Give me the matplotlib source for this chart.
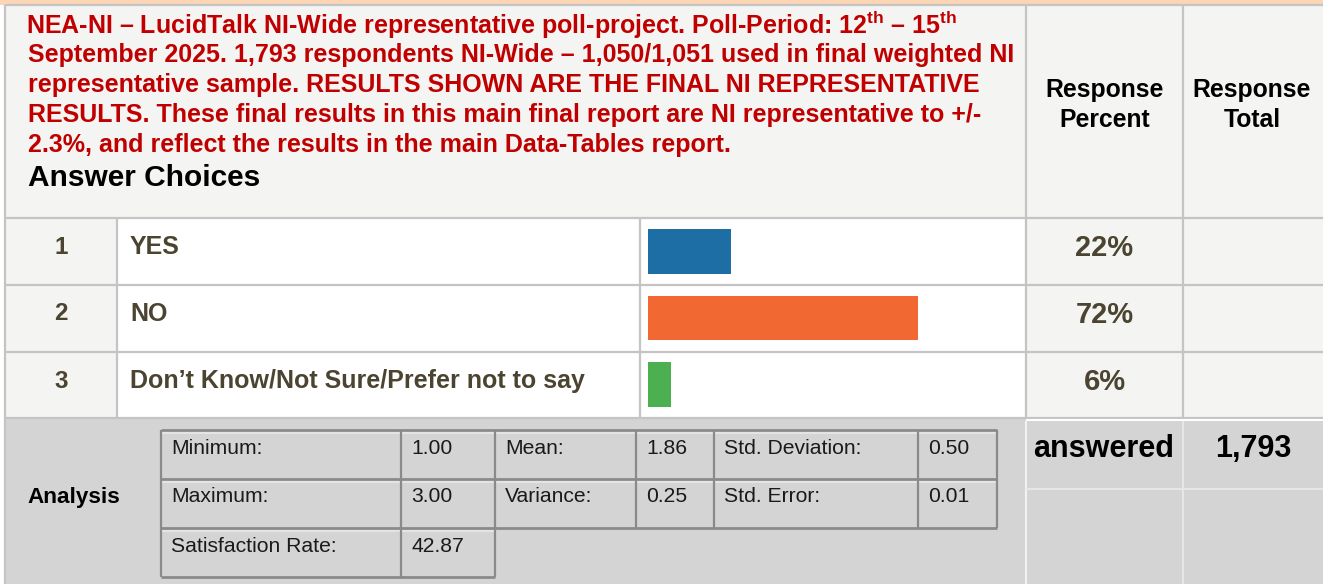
import matplotlib
matplotlib.use('Agg')
import matplotlib.pyplot as plt
from matplotlib.patches import Rectangle

plt.rcParams['font.family'] = 'Liberation Sans'
plt.rcParams['mathtext.fontset'] = 'custom'
plt.rcParams['mathtext.rm'] = 'Liberation Sans:bold'
plt.rcParams['mathtext.it'] = 'Liberation Sans:bold'
plt.rcParams['mathtext.bf'] = 'Liberation Sans:bold'

# data
header_lines = [
    'NEA-NI – LucidTalk NI-Wide representative poll-project. Poll-Period: 12$^{\\mathrm{th}}$ – 15$^{\\mathrm{th}}$',
    'September 2025. 1,793 respondents NI-Wide – 1,050/1,051 used in final weighted NI',
    'representative sample. RESULTS SHOWN ARE THE FINAL NI REPRESENTATIVE',
    'RESULTS. These final results in this main final report are NI representative to +/-',
    '2.3%, and reflect the results in the main Data-Tables report.',
]
choice_nums = ['1', '2', '3']
choices = ['YES', 'NO', 'Don’t Know/Not Sure/Prefer not to say']
percents = [22, 72, 6]
bar_colors = ['#1c6ea4', '#f26833', '#4caf50']
stat_labels = [['Minimum:', 'Mean:', 'Std. Deviation:'],
               ['Maximum:', 'Variance:', 'Std. Error:'],
               ['Satisfaction Rate:']]
stat_values = [['1.00', '1.86', '0.50'],
               ['3.00', '0.25', '0.01'],
               ['42.87']]
answered = '1,793'

W, H = 1323, 584
fig = plt.figure(figsize=(W / 100, H / 100), dpi=100)
ax = fig.add_axes([0, 0, 1, 1])
ax.set_xlim(0, W)
ax.set_ylim(H, 0)
ax.axis('off')

grid = '#c4c4c4'
light = '#f4f4f2'
dark_text = '#4a4430'
red = '#c00000'


def box(x0, y0, x1, y1, fc, ec=None, lw=0):
    ax.add_patch(Rectangle((x0, y0), x1 - x0, y1 - y0, facecolor=fc,
                           edgecolor=ec if ec else 'none', linewidth=lw))


def hline(y, x0, x1, c=grid, lw=1.6):
    ax.plot([x0, x1], [y, y], color=c, lw=lw, solid_capstyle='butt')


def vline(x, y0, y1, c=grid, lw=1.6):
    ax.plot([x, x], [y0, y1], color=c, lw=lw, solid_capstyle='butt')


# top strip + header
box(0, 0, W, 5, '#fcd5b4')
box(5, 5, W, 218, light)
hline(5, 5, W)
vline(5, 5, H)
vline(1026, 5, 418)
vline(1183, 5, 418)

row_y = [218, 285, 352, 418]
for i in range(3):
    y0, y1 = row_y[i], row_y[i + 1]
    box(5, y0, 117, y1, light)
    box(117, y0, 1026, y1, 'white')
    box(1026, y0, W, y1, light)
for y in row_y:
    hline(y, 5, W)
for x in [117, 640]:
    vline(x, 218, 418)

for i, line in enumerate(header_lines):
    ax.text(28 - (2 if i == 0 else 0), 25 + i * 30, line, color=red,
            fontsize=18, fontweight='bold', va='center', ha='left')
ax.text(28, 178, 'Answer Choices', color='black', fontsize=21.5,
        fontweight='bold', va='center', ha='left')
ax.text(1104.5, 105, 'Response\nPercent', color='black', fontsize=17.8,
        fontweight='bold', va='center', ha='center', linespacing=1.3)
ax.text(1252, 105, 'Response\nTotal', color='black', fontsize=17.8,
        fontweight='bold', va='center', ha='center', linespacing=1.3)

for i in range(3):
    yc = row_y[i] + 29
    ax.text(61, yc, choice_nums[i], color=dark_text, fontsize=17.5,
            fontweight='bold', va='center', ha='center')
    ax.text(130, yc, choices[i], color=dark_text, fontsize=18,
            fontweight='bold', va='center', ha='left')
    ax.text(1104.5, yc + 1, f'{percents[i]}%', color=dark_text, fontsize=21,
            fontweight='bold', va='center', ha='center')

# bars
bax = fig.add_axes([648 / W, 1 - 418 / H, 375 / W, 200 / H])
bax.barh(range(3), percents, height=0.67, color=bar_colors)
bax.set_xlim(0, 100)
bax.set_ylim(2.5, -0.5)
bax.axis('off')

# analysis section
box(5, 419, W, H, '#d4d4d4')
hline(419.5, 1026, W, c='white', lw=1.5)
vline(1026, 421, H, c='#f2f2f2', lw=1.5)
vline(1182.5, 421, H, c='#e6e6e6', lw=1.5)
hline(488.5, 1026, W, c='#e6e6e6', lw=1.5)

ax.text(27, 498, 'Analysis', color='black', fontsize=16.2, fontweight='bold',
        va='center', ha='left')
ax.text(1104, 449, 'answered', color='black', fontsize=22, fontweight='bold',
        va='center', ha='center')
ax.text(1253, 449, answered, color='black', fontsize=22, fontweight='bold',
        va='center', ha='center')

cx = [161, 401, 495, 636, 714, 918, 997]
ry = [430, 479, 528, 577]
bdr = '#8a8a8a'
for r in range(3):
    y0, y1 = ry[r], ry[r + 1]
    ncell = len(stat_labels[r])
    x_end = cx[2 * ncell]
    hline(y0, cx[0], x_end, c=bdr, lw=2)
    hline(y0 + 3, cx[0], x_end, c='#e4e4e4', lw=1.5)
    for k in range(2 * ncell + 1):
        vline(cx[k], y0, y1, c=bdr, lw=1.6)
    for j in range(ncell):
        ax.text(cx[2 * j] + 10, y0 + 18, stat_labels[r][j], color='#1a1a1a',
                fontsize=15.2, va='center', ha='left')
        ax.text(cx[2 * j + 1] + 10, y0 + 18, stat_values[r][j], color='#1a1a1a',
                fontsize=15.2, va='center', ha='left')
    if r == 2:
        hline(y1, cx[0], cx[2], c=bdr, lw=2)
hline(ry[2], cx[2], cx[6], c=bdr, lw=2)

fig.savefig('out.png', dpi=100)
